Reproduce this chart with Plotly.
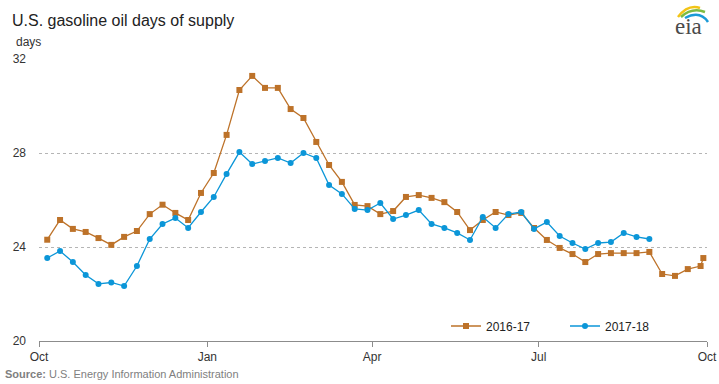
import plotly.graph_objects as go
import pandas as pd

# ---- data ----
series_2016_17 = [24.31, 25.15, 24.77, 24.64, 24.38, 24.09, 24.43, 24.68, 25.40, 25.80,
                  25.45, 25.15, 26.30, 27.15, 28.77, 30.68, 31.28, 30.77, 30.77, 29.87,
                  29.49, 28.47, 27.49, 26.77, 25.79, 25.74, 25.40, 25.53, 26.13, 26.21,
                  26.09, 25.91, 25.49, 24.72, 25.15, 25.49, 25.36, 25.45, 24.81, 24.30,
                  23.96, 23.70, 23.36, 23.70, 23.74, 23.74, 23.74, 23.79, 22.85, 22.77,
                  23.06, 23.19, 23.53]
series_2017_18 = [23.53, 23.83, 23.36, 22.81, 22.43, 22.49, 22.34, 23.19, 24.34, 24.98,
                  25.23, 24.81, 25.49, 26.13, 27.11, 28.04, 27.53, 27.66, 27.79, 27.57,
                  28.00, 27.79, 26.64, 26.26, 25.62, 25.57, 25.87, 25.19, 25.36, 25.57,
                  24.98, 24.81, 24.60, 24.30, 25.28, 24.81, 25.40, 25.49, 24.77, 25.06,
                  24.47, 24.17, 23.91, 24.17, 24.21, 24.60, 24.43, 24.34]
week_start = "2016-10-05 12:00"
last_date = "2017-09-29"
tick_dates = ["2016-10-01", "2017-01-01", "2017-04-01", "2017-07-01", "2017-10-01"]
tick_labels = ["Oct", "Jan", "Apr", "Jul", "Oct"]
y_ticks = [20, 24, 28, 32]

weeks = list(pd.date_range(week_start, periods=52, freq="7D")) + [pd.Timestamp(last_date)]
x_a = weeks[:len(series_2016_17)]
x_b = weeks[:len(series_2017_18)]

ORANGE = "#BD7229"
BLUE = "#0B96D8"

fig = go.Figure()
fig.add_trace(go.Scatter(x=x_a, y=series_2016_17, name="2016-17", mode="lines+markers",
                         line=dict(color=ORANGE, width=1.3),
                         marker=dict(symbol="square", size=6, color=ORANGE)))
fig.add_trace(go.Scatter(x=x_b, y=series_2017_18, name="2017-18", mode="lines+markers",
                         line=dict(color=BLUE, width=1.3),
                         marker=dict(symbol="circle", size=6, color=BLUE)))

W, H = 719, 384
L, R, T, B = 39, 12, 59, 43
pw, ph = W - L - R, H - T - B

def px(xp):
    return (xp - L) / pw

def py(yp):
    return (H - B - yp) / ph

fig.update_layout(
    width=W, height=H,
    margin=dict(l=L, r=R, t=T, b=B, autoexpand=False),
    paper_bgcolor="white", plot_bgcolor="white",
    font=dict(family="Arial, Liberation Sans, sans-serif", size=12, color="#333333"),
    showlegend=True,
    legend=dict(orientation="h", x=px(446), y=py(326), xanchor="left", yanchor="middle",
                bgcolor="rgba(0,0,0,0)", font=dict(size=12, color="#222222"),
                itemwidth=30, tracegroupgap=0, entrywidth=74, entrywidthmode="pixels"),
    xaxis=dict(type="date", range=[tick_dates[0], tick_dates[-1]],
               tickmode="array", tickvals=tick_dates, ticktext=tick_labels,
               showgrid=False, showline=True, linecolor="#8c8c8c", linewidth=1,
               ticks="outside", ticklen=5, tickcolor="#8c8c8c",
               tickfont=dict(size=12, color="#333333"), zeroline=False),
    yaxis=dict(range=[20, 32], tickmode="array", tickvals=y_ticks,
               showgrid=True, gridcolor="#b5b5b5", griddash="dot", gridwidth=1,
               zeroline=False, showline=False, ticks="", ticklabelstandoff=12,
               tickfont=dict(size=12, color="#333333")),
)

annos = [
    dict(text="U.S. gasoline oil days of supply", x=px(10), y=py(21), xanchor="left", yanchor="middle",
         font=dict(size=16, color="#222222")),
    dict(text="days", x=px(14), y=py(42), xanchor="left", yanchor="middle",
         font=dict(size=12, color="#333333")),
    dict(text="<b>Source:</b> U.S. Energy Information Administration", x=px(3), y=py(374),
         xanchor="left", yanchor="middle", font=dict(size=11, color="#808080")),
    dict(text="eia", x=px(688), y=py(26), xanchor="center", yanchor="middle",
         font=dict(size=23, color="#4a4a4a", family="Liberation Serif, DejaVu Serif, serif")),
]
for a in annos:
    a.update(xref="paper", yref="paper", showarrow=False)
fig.update_layout(annotations=annos)

# logo arcs
def arc(x0, y0, cx, cy, x1, y1, color, w):
    return dict(type="path", xref="paper", yref="paper",
                path=f"M {px(x0)},{py(y0)} Q {px(cx)},{py(cy)} {px(x1)},{py(y1)}",
                line=dict(color=color, width=w))

fig.update_layout(shapes=[
    arc(678, 17, 688, 4, 700, 8, "#F2C417", 2.5),
    arc(681, 17, 692, 7, 705, 12, "#7DBB42", 2.5),
    arc(685, 18, 700, 10, 708, 22, "#1B9AD6", 2.5),
])

fig.write_html("out.html", config={"displayModeBar": False, "staticPlot": True})
with open("out.html", "r", encoding="utf-8") as f:
    html = f.read()
html = html.replace("<head>", "<head><style>html,body{margin:0;padding:0;overflow:hidden;}</style>", 1)
with open("out.html", "w", encoding="utf-8") as f:
    f.write(html)
